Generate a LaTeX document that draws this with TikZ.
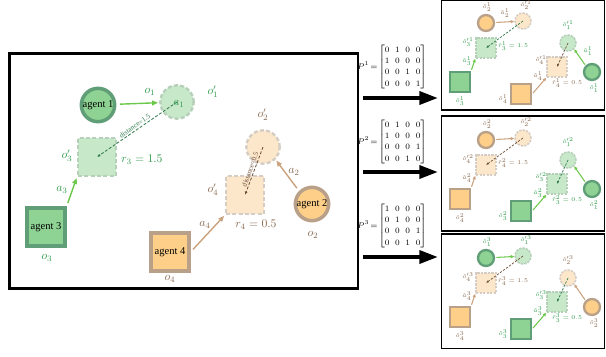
\documentclass[tikz,border=0pt]{standalone}
\usepackage{amsmath}
\usepackage{fontspec}
\setmainfont{Liberation Serif}
\usetikzlibrary{arrows.meta}
\definecolor{gfill}{HTML}{8ED393}
\definecolor{gline}{HTML}{5F9E76}
\definecolor{gtfill}{HTML}{C8E8CA}
\definecolor{gtline}{HTML}{B5CFB9}
\definecolor{glbl}{HTML}{2E9C4B}
\definecolor{gact}{HTML}{6CC84A}
\definecolor{gdst}{HTML}{2D7A4C}
\definecolor{ofill}{HTML}{FDCF88}
\definecolor{oline}{HTML}{B9A089}
\definecolor{otfill}{HTML}{FDE7CB}
\definecolor{otline}{HTML}{D5CDC4}
\definecolor{olbl}{HTML}{8A6A50}
\definecolor{oact}{HTML}{CBA27E}
\definecolor{odst}{HTML}{6E5038}
\tikzset{
  % odd agents green, even agents orange
  tint/.code={\ifodd#1\relax\pgfkeysalso{fill=gfill, draw=gline}\else\pgfkeysalso{fill=ofill, draw=oline}\fi},
  tint goal/.code={\ifodd#1\relax\pgfkeysalso{fill=gtfill, draw=gtline}\else\pgfkeysalso{fill=otfill, draw=otline}\fi},
  act/.code={\ifodd#1\relax\pgfkeysalso{draw=gact}\else\pgfkeysalso{draw=oact}\fi},
  meas/.code={\ifodd#1\relax\pgfkeysalso{draw=gdst}\else\pgfkeysalso{draw=odst}\fi},
  lbl/.code={\ifodd#1\relax\pgfkeysalso{text=glbl}\else\pgfkeysalso{text=olbl}\fi},
  ring/.style={circle, minimum size=1cm, inner sep=0pt, font=\small},
  tile/.style={rectangle, minimum size=1.13cm, inner sep=0pt, font=\small},
  mini ring/.style={circle, minimum size=0.48cm, inner sep=0pt},
  mini tile/.style={rectangle, minimum size=0.6cm, inner sep=0pt},
  agent/.style={tint=#1, line width=3pt},
  goal/.style={tint goal=#1, line width=2pt, dash pattern=on 3.4pt off 2pt},
  mini agent/.style={tint=#1, line width=2pt},
  mini goal/.style={tint goal=#1, line width=1.3pt, dash pattern=on 2pt off 1pt},
  move/.style={act=#1, line width=1.2pt, -{Triangle[length=5pt,width=4pt]}, shorten <=3pt, shorten >=1pt},
  mini move/.style={act=#1, line width=0.9pt, -{Triangle[length=3pt,width=2.6pt]}, shorten <=1pt},
  probe/.style={meas=#1, line width=0.7pt, dash pattern=on 2.5pt off 1.5pt, -{Latex[length=3pt,width=2.5pt]}},
  mini probe/.style={meas=#1, line width=0.6pt, dash pattern=on 2pt off 1.2pt, -{Latex[length=2.5pt,width=2pt]}},
  tag/.style={lbl=#1, inner sep=1pt},
  mini tag/.style={lbl=#1, font=\fontsize{5}{6}\selectfont, inner sep=0.5pt},
  dtext/.style={font=\fontsize{6}{7}\selectfont, inner sep=1pt},
  frame/.style={draw, inner sep=0pt},
  mat/.style={font=\scriptsize\setlength{\arraycolsep}{2.4pt}\renewcommand{\arraystretch}{1.2}, inner sep=0pt, anchor=east},
  push/.style={line width=3.4pt, -{Triangle[length=16pt,width=11pt]}, shorten <=3pt}
}

\begin{document}
\begin{tikzpicture}[x=0.03cm, y=-0.03cm]
    \useasboundingbox (0,0) rectangle (606,356);

    % --- ORIGINAL SCENE ---
    \node[frame, line width=2pt, minimum width=10.46cm, minimum height=7.05cm] (scene) at (183.75,171) {};

    \node[ring, agent=1] (ag1) at (98,105) {agent 1};
    \node[ring, goal=1] (tg1) at (177,102) {};
    \node[tile, goal=3] (ts3) at (97,157) {};
    \node[tile, agent=3] (ag3) at (46,227) {agent 3};
    \node[tile, agent=4] (ag4) at (170,252) {agent 4};
    \node[tile, goal=4] (ts4) at (245,195) {};
    \node[ring, goal=2] (tg2) at (263,147) {};
    \node[ring, agent=2] (ag2) at (312,204) {agent 2};

    \draw[move=1] (ag1) -- (tg1);
    \draw[move=3] (ag3.north east) -- (ts3.south west);
    \draw[move=4] (ag4.east) -- (ts4.south west);
    \draw[move=2] (ag2.north west) -- (tg2.south east);
    \draw[probe=3] (tg1.center) -- (ts3.center)
        node[midway, sloped, above, dtext, text=gdst] (d13) {distance=1.5};
    \draw[probe=4] (tg2.center) -- (ts4.center)
        node[midway, sloped, above, dtext, text=odst] (d24) {distance=0.5};

    \node[tag=1] (lo1) at (150,92) {$o_1$};
    \node[tag=1] (la1) at (179,104) {$a_1$};
    \node[tag=1] (lq1) at (213,92) {$o'_1$};
    \node[tag=3] (lq3) at (67,156) {$o'_3$};
    \node[tag=3, anchor=west] (lr3) at (120,160) {$r_3=1.5$};
    \node[tag=3] (la3) at (62,190) {$a_3$};
    \node[tag=3] (lo3) at (47,258) {$o_3$};
    \node[tag=4] (lo4) at (170,279) {$o_4$};
    \node[tag=4] (la4) at (205,225) {$a_4$};
    \node[tag=4] (lq4) at (213,190) {$o'_4$};
    \node[tag=4, anchor=west] (lr4) at (234,225) {$r_4=0.5$};
    \node[tag=2] (lq2) at (263,115) {$o'_2$};
    \node[tag=2] (la2) at (294,172) {$a_2$};
    \node[tag=2] (lo2) at (313,235) {$o_2$};

    % --- PERMUTATIONS ---
    \node[mat] (pm1) at (427,67) {$P^1\!=\!\begin{bmatrix}0&1&0&0\\1&0&0&0\\0&0&1&0\\0&0&0&1\end{bmatrix}$};
    \node[mat] (pm2) at (427,142) {$P^2\!=\!\begin{bmatrix}0&1&0&0\\1&0&0&0\\0&0&0&1\\0&0&1&0\end{bmatrix}$};
    \node[mat] (pm3) at (427,226) {$P^3\!=\!\begin{bmatrix}1&0&0&0\\0&1&0&0\\0&0&0&1\\0&0&1&0\end{bmatrix}$};

    \node[frame, line width=1.2pt, minimum width=4.89cm, minimum height=3.285cm] (perm1) at (523,55.25) {};
    \node[frame, line width=1.2pt, minimum width=4.89cm, minimum height=3.45cm] (perm2) at (523,173.5) {};
    \node[frame, line width=1.2pt, minimum width=4.89cm, minimum height=3.435cm] (perm3) at (523,291.25) {};

    \coordinate (in1) at (438,98);
    \coordinate (in2) at (438,172);
    \coordinate (in3) at (438,257);
    \draw[push] (scene.east |- in1) -- (in1);
    \draw[push] (scene.east |- in2) -- (in2);
    \draw[push] (scene.east |- in3) -- (in3);

    % --- PERMUTED SCENES ---
    \foreach \p/\dy/\ci/\si/\bi/\ri in {1/0/2/3/4/1, 2/117/2/4/3/1, 3/235/1/4/3/2}{
      \begin{scope}[shift={(0,\dy)}]
        \node[mini ring, mini agent=\ci] (lc\p) at (486,23) {};
        \node[mini ring, mini goal=\ci] (lt\p) at (523,21) {};
        \node[mini tile, mini goal=\si] (st\p) at (486,48) {};
        \node[mini tile, mini agent=\si] (sa\p) at (460,82) {};
        \node[mini tile, mini agent=\bi] (ba\p) at (521,94) {};
        \node[mini tile, mini goal=\bi] (bt\p) at (557,67) {};
        \node[mini ring, mini goal=\ri] (rt\p) at (568,43) {};
        \node[mini ring, mini agent=\ri] (rc\p) at (592,72) {};

        \draw[mini move=\ci] (lc\p) -- (lt\p);
        \draw[mini move=\si] (sa\p.north east) -- (st\p.south west);
        \draw[mini move=\bi] (ba\p.east) -- (bt\p.south west);
        \draw[mini move=\ri] (rc\p.north west) -- (rt\p.south east);
        \draw[mini probe=\si] (lt\p.center) -- (st\p.center);
        \draw[mini probe=\bi] (rt\p.center) -- (bt\p.center);

        \node[mini tag=\ci] (mo\p a) at (487,7) {$\hat{o}_{\ci}^{\p}$};
        \node[mini tag=\ci] (mq\p a) at (526,5) {$\hat{o}_{\ci}^{\prime\p}$};
        \node[mini tag=\si] (mq\p b) at (468,42) {$\hat{o}_{\si}^{\prime\p}$};
        \node[mini tag=\si, anchor=west] (mr\p b) at (497,46) {$\hat{r}_{\si}^{\p}=1.5$};
        \node[mini tag=\si] (ma\p b) at (467,61) {$\hat{a}_{\si}^{\p}$};
        \node[mini tag=\si] (mo\p b) at (460,101) {$\hat{o}_{\si}^{\p}$};
        \node[mini tag=\bi] (mo\p c) at (503,99) {$\hat{o}_{\bi}^{\p}$};
        \node[mini tag=\bi] (ma\p c) at (538,76) {$\hat{a}_{\bi}^{\p}$};
        \node[mini tag=\bi] (mq\p c) at (541,60) {$\hat{o}_{\bi}^{\prime\p}$};
        \node[mini tag=\bi, anchor=west] (mr\p c) at (551,83) {$\hat{r}_{\bi}^{\p}=0.5$};
        \node[mini tag=\ri] (mq\p d) at (568,25) {$\hat{o}_{\ri}^{\prime\p}$};
        \node[mini tag=\ri] (mo\p d) at (594,88) {$\hat{o}_{\ri}^{\p}$};
        \ifnum\p=1
          \node[mini tag=\ci] (ma\p a) at (505,13) {$\hat{a}_{\ci}^{\p}$};
          \node[mini tag=\ri] (ma\p d) at (588,51) {$\hat{a}_{\ri}^{\p}$};
        \fi
      \end{scope}
    }
\end{tikzpicture}
\end{document}
